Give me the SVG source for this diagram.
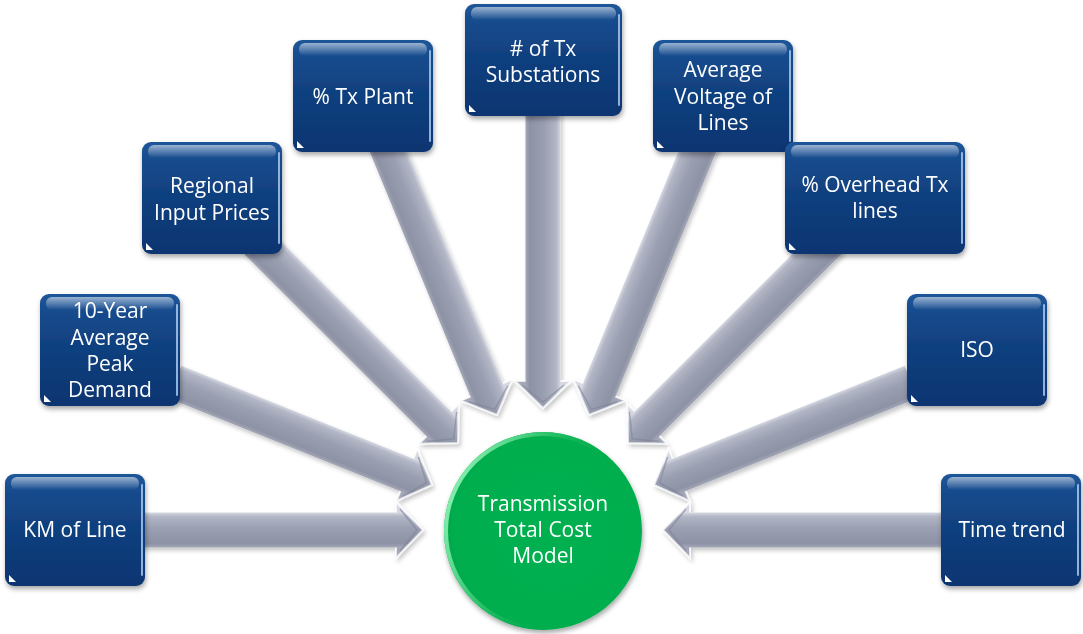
<svg xmlns="http://www.w3.org/2000/svg" width="1083" height="634" viewBox="0 0 1083 634">
  <defs>
    <linearGradient id="boxFill" x1="0" y1="0" x2="0" y2="1">
      <stop offset="0" stop-color="#1E5699"/>
      <stop offset="0.18" stop-color="#164A8C"/>
      <stop offset="0.55" stop-color="#0F3E7C"/>
      <stop offset="1" stop-color="#0B3571"/>
    </linearGradient>
    <linearGradient id="gloss" x1="0" y1="0" x2="0" y2="1">
      <stop offset="0" stop-color="#FFFFFF" stop-opacity="0.55"/>
      <stop offset="1" stop-color="#FFFFFF" stop-opacity="0"/>
    </linearGradient>
    <linearGradient id="shaft" gradientUnits="userSpaceOnUse" x1="0" y1="-17.5" x2="0" y2="17.5">
      <stop offset="0" stop-color="#D6D9E2"/>
      <stop offset="0.12" stop-color="#B2B6C5"/>
      <stop offset="0.45" stop-color="#9A9FB2"/>
      <stop offset="0.88" stop-color="#8D92A5"/>
      <stop offset="1" stop-color="#A3A7B7"/>
    </linearGradient>
    <radialGradient id="ballFill" cx="0.55" cy="0.5" r="0.55">
      <stop offset="0" stop-color="#00B050"/>
      <stop offset="0.9" stop-color="#00AE4E"/>
      <stop offset="1" stop-color="#07A64A"/>
    </radialGradient>
    <linearGradient id="ballRim" x1="0" y1="0.3" x2="1" y2="0.7">
      <stop offset="0" stop-color="#8AF0B3"/>
      <stop offset="0.35" stop-color="#2CC26A"/>
      <stop offset="0.7" stop-color="#00A84B" stop-opacity="0"/>
    </linearGradient>
    <filter id="shadow" x="-20%" y="-20%" width="140%" height="150%">
      <feDropShadow dx="1" dy="3" stdDeviation="2.5" flood-color="#000" flood-opacity="0.35"/>
    </filter>
    <filter id="arrowShadow" x="-10%" y="-10%" width="120%" height="120%">
      <feDropShadow dx="2" dy="3" stdDeviation="2" flood-color="#000" flood-opacity="0.22"/>
    </filter>
    <!-- block arrow pointing along +x with its tip at the origin -->
    <g id="arrowHead">
      <path d="M -27 -17.5 L -27 -28 L 0 0 L -27 28 L -27 17.5" fill="none" stroke="#FFFFFF" stroke-opacity="0.75" stroke-width="2" stroke-linejoin="miter"/>
      <path d="M -23 -21 L -6 0 L -23 21" fill="none" stroke="#7E8397" stroke-opacity="0.6" stroke-width="1.5"/>
    </g>
  </defs>
  <style>
    .shaft { fill: url(#shaft); }
    .box { fill: url(#boxFill); }
    .gloss { fill: url(#gloss); }
    .edge { stroke: #A6C8F0; stroke-width: 2; stroke-linecap: round; opacity: 0.85; }
    .notch { fill: #FFFFFF; }
    .label { font-family: "Open Sans", "Liberation Sans", sans-serif; font-size: 21px; fill: #FFFFFF; text-anchor: middle; }
  </style>

  <rect width="1083" height="634" fill="#FFFFFF"/>

  <!-- connectors -->
  <g id="connectors" filter="url(#arrowShadow)">
    <g transform="translate(423,530)">
      <path class="shaft" d="M -283 -17.5 L -27 -17.5 L -27 -28 L 0 0 L -27 28 L -27 17.5 L -283 17.5 Z"/>
      <use href="#arrowHead"/>
    </g>
    <g transform="translate(432,485) rotate(21.84)">
      <path class="shaft" d="M -277 -17.5 L -27 -17.5 L -27 -28 L 0 0 L -27 28 L -27 17.5 L -277 17.5 Z"/>
      <use href="#arrowHead"/>
    </g>
    <g transform="translate(458,443) rotate(45)">
      <path class="shaft" d="M -287 -17.5 L -27 -17.5 L -27 -28 L 0 0 L -27 28 L -27 17.5 L -287 17.5 Z"/>
      <use href="#arrowHead"/>
    </g>
    <g transform="translate(497,415) rotate(67.64)">
      <path class="shaft" d="M -306 -17.5 L -27 -17.5 L -27 -28 L 0 0 L -27 28 L -27 17.5 L -306 17.5 Z"/>
      <use href="#arrowHead"/>
    </g>
    <g transform="translate(543,408) rotate(90)">
      <path class="shaft" d="M -308 -17.5 L -27 -17.5 L -27 -28 L 0 0 L -27 28 L -27 17.5 L -308 17.5 Z"/>
      <use href="#arrowHead"/>
    </g>
    <g transform="translate(589,415) scale(-1,1) rotate(67.64)">
      <path class="shaft" d="M -306 -17.5 L -27 -17.5 L -27 -28 L 0 0 L -27 28 L -27 17.5 L -306 17.5 Z"/>
      <use href="#arrowHead"/>
    </g>
    <g transform="translate(628,443) scale(-1,1) rotate(45)">
      <path class="shaft" d="M -287 -17.5 L -27 -17.5 L -27 -28 L 0 0 L -27 28 L -27 17.5 L -287 17.5 Z"/>
      <use href="#arrowHead"/>
    </g>
    <g transform="translate(654,485) scale(-1,1) rotate(21.84)">
      <path class="shaft" d="M -277 -17.5 L -27 -17.5 L -27 -28 L 0 0 L -27 28 L -27 17.5 L -277 17.5 Z"/>
      <use href="#arrowHead"/>
    </g>
    <g transform="translate(663,530) scale(-1,1)">
      <path class="shaft" d="M -283 -17.5 L -27 -17.5 L -27 -28 L 0 0 L -27 28 L -27 17.5 L -283 17.5 Z"/>
      <use href="#arrowHead"/>
    </g>
  </g>

  <!-- input factor boxes -->
  <g id="node-km-of-line" filter="url(#shadow)">
    <rect class="box" x="5" y="474" width="140" height="112" rx="9"/>
    <rect class="gloss" x="11" y="477" width="128" height="13" rx="6"/>
    <line class="edge" x1="142" y1="485" x2="142" y2="575"/>
    <path class="notch" d="M 9 582 l 0 -7 l 7 7 z"/>
    <text class="label" x="75" y="537">KM of Line</text>
  </g>
  <g id="node-peak-demand" filter="url(#shadow)">
    <rect class="box" x="40" y="294" width="140" height="112" rx="9"/>
    <rect class="gloss" x="46" y="297" width="128" height="13" rx="6"/>
    <line class="edge" x1="177" y1="305" x2="177" y2="395"/>
    <path class="notch" d="M 44 402 l 0 -7 l 7 7 z"/>
    <text class="label" x="110" y="318">10-Year</text>
    <text class="label" x="110" y="345">Average</text>
    <text class="label" x="110" y="371">Peak</text>
    <text class="label" x="110" y="397">Demand</text>
  </g>
  <g id="node-regional-input-prices" filter="url(#shadow)">
    <rect class="box" x="142" y="142" width="140" height="112" rx="9"/>
    <rect class="gloss" x="148" y="145" width="128" height="13" rx="6"/>
    <line class="edge" x1="279" y1="153" x2="279" y2="243"/>
    <path class="notch" d="M 146 250 l 0 -7 l 7 7 z"/>
    <text class="label" x="212" y="193">Regional</text>
    <text class="label" x="212" y="220">Input Prices</text>
  </g>
  <g id="node-tx-plant" filter="url(#shadow)">
    <rect class="box" x="293" y="40" width="140" height="112" rx="9"/>
    <rect class="gloss" x="299" y="43" width="128" height="13" rx="6"/>
    <line class="edge" x1="430" y1="51" x2="430" y2="141"/>
    <path class="notch" d="M 297 148 l 0 -7 l 7 7 z"/>
    <text class="label" x="363" y="104">% Tx Plant</text>
  </g>
  <g id="node-tx-substations" filter="url(#shadow)">
    <rect class="box" x="465" y="4" width="157" height="112" rx="9"/>
    <rect class="gloss" x="471" y="7" width="145" height="13" rx="6"/>
    <line class="edge" x1="619" y1="15" x2="619" y2="105"/>
    <path class="notch" d="M 469 112 l 0 -7 l 7 7 z"/>
    <text class="label" x="543" y="56"># of Tx</text>
    <text class="label" x="543" y="82">Substations</text>
  </g>
  <g id="node-average-voltage" filter="url(#shadow)">
    <rect class="box" x="653" y="40" width="140" height="112" rx="9"/>
    <rect class="gloss" x="659" y="43" width="128" height="13" rx="6"/>
    <line class="edge" x1="790" y1="51" x2="790" y2="141"/>
    <path class="notch" d="M 657 148 l 0 -7 l 7 7 z"/>
    <text class="label" x="723" y="77">Average</text>
    <text class="label" x="723" y="104">Voltage of</text>
    <text class="label" x="723" y="130">Lines</text>
  </g>
  <g id="node-overhead-lines" filter="url(#shadow)">
    <rect class="box" x="785" y="142" width="180" height="112" rx="9"/>
    <rect class="gloss" x="791" y="145" width="168" height="13" rx="6"/>
    <line class="edge" x1="962" y1="153" x2="962" y2="243"/>
    <path class="notch" d="M 789 250 l 0 -7 l 7 7 z"/>
    <text class="label" x="875" y="192">% Overhead Tx</text>
    <text class="label" x="875" y="218">lines</text>
  </g>
  <g id="node-iso" filter="url(#shadow)">
    <rect class="box" x="907" y="294" width="140" height="112" rx="9"/>
    <rect class="gloss" x="913" y="297" width="128" height="13" rx="6"/>
    <line class="edge" x1="1044" y1="305" x2="1044" y2="395"/>
    <path class="notch" d="M 911 402 l 0 -7 l 7 7 z"/>
    <text class="label" x="977" y="357">ISO</text>
  </g>
  <g id="node-time-trend" filter="url(#shadow)">
    <rect class="box" x="941" y="474" width="140" height="112" rx="9"/>
    <rect class="gloss" x="947" y="477" width="128" height="13" rx="6"/>
    <line class="edge" x1="1078" y1="485" x2="1078" y2="575"/>
    <path class="notch" d="M 945 582 l 0 -7 l 7 7 z"/>
    <text class="label" x="1012" y="537">Time trend</text>
  </g>

  <!-- central model -->
  <g id="node-total-cost-model" filter="url(#shadow)">
    <circle cx="543" cy="531" r="99" fill="url(#ballFill)"/>
    <circle cx="543" cy="531" r="97" fill="none" stroke="url(#ballRim)" stroke-width="4"/>
    <text class="label" x="543" y="511">Transmission</text>
    <text class="label" x="543" y="537">Total Cost</text>
    <text class="label" x="543" y="563">Model</text>
  </g>
</svg>
